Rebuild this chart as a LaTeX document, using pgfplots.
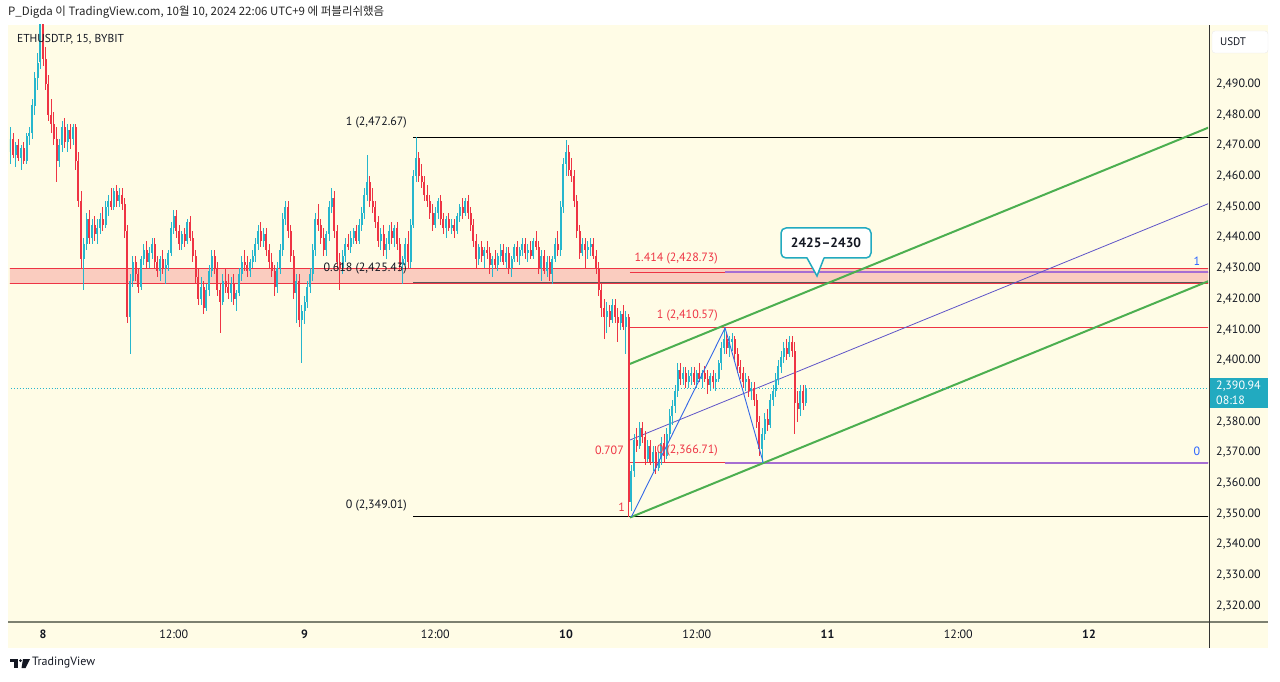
\documentclass[border=0pt]{standalone}
\usepackage{fontspec}
\setmainfont{PT Sans}
\newfontfamily\kr{Noto Sans CJK KR}
\usepackage{pgfplots}
\usepackage{pgfplotstable}
\pgfplotsset{compat=1.18}

\definecolor{bg}{RGB}{255,252,230}
\definecolor{upc}{RGB}{38,182,205}
\definecolor{dnc}{RGB}{238,52,68}
\definecolor{grn}{RGB}{76,175,80}
\definecolor{prp}{RGB}{166,110,210}
\definecolor{mid}{RGB}{94,84,200}
\definecolor{zz}{RGB}{52,104,230}
\definecolor{tealc}{RGB}{34,170,192}
\definecolor{txt}{RGB}{19,23,34}
\definecolor{axc}{RGB}{125,128,112}
\definecolor{lblue}{RGB}{41,98,255}

% ETHUSDT.P 15m candles, first one at Oct 7 21:00 (x in hours from Oct 8 00:00)
\pgfplotstableread{
o h l c
2468 2476 2464 2472
2472 2474 2466 2467
2467 2471 2463 2470
2470 2472 2465 2466
2466 2470 2462 2469
2469 2471 2464 2465
2465 2474 2464 2473
2473 2476 2470 2474
2474 2485 2472 2483
2483 2494 2480 2492
2492 2500 2488 2497
2497 2514 2495 2510
2510 2512 2496 2498
2498 2502 2488 2490
2490 2493 2478 2480
2480 2485 2474 2477
2477 2481 2470 2472
2472 2476 2458 2465
2465 2472 2463 2470
2470 2478 2468 2476
2476 2479 2469 2471
2471 2477 2468 2475
2475 2477 2469 2472
2472 2477 2470 2476
2476 2477 2462 2465
2465 2468 2450 2452
2452 2455 2430 2433
2433 2440 2423 2438
2438 2448 2436 2446
2446 2449 2438 2440
2440 2446 2438 2444
2444 2447 2439 2441
2441 2446 2438 2443
2443 2448 2441 2446
2446 2450 2442 2444
2444 2452 2443 2450
2450 2454 2447 2452
2452 2456 2449 2450
2450 2456 2449 2455
2455 2457 2450 2452
2452 2456 2450 2454
2454 2456 2449 2451
2451 2453 2440 2442
2442 2444 2412 2414
2414 2428 2402 2426
2426 2434 2424 2432
2432 2434 2426 2428
2428 2430 2422 2424
2424 2434 2423 2433
2433 2438 2431 2436
2436 2439 2430 2432
2432 2437 2430 2435
2435 2440 2433 2438
2438 2440 2430 2432
2432 2434 2427 2429
2429 2434 2426 2433
2433 2436 2428 2430
2430 2433 2425 2431
2431 2436 2429 2435
2435 2445 2434 2443
2443 2449 2441 2447
2447 2449 2440 2442
2442 2444 2436 2438
2438 2442 2436 2441
2441 2443 2437 2439
2439 2446 2438 2445
2445 2447 2439 2440
2440 2442 2432 2434
2434 2436 2425 2427
2427 2430 2418 2420
2420 2427 2418 2424
2424 2426 2415 2417
2417 2425 2416 2423
2423 2431 2421 2429
2429 2436 2427 2434
2434 2436 2428 2430
2430 2432 2421 2423
2423 2425 2409 2419
2419 2428 2418 2426
2426 2430 2422 2424
2424 2428 2420 2422
2422 2427 2419 2425
2425 2428 2418 2420
2420 2423 2416 2422
2422 2430 2421 2428
2428 2434 2426 2432
2432 2436 2429 2431
2431 2434 2427 2429
2429 2433 2427 2432
2432 2436 2430 2434
2434 2440 2432 2438
2438 2444 2436 2442
2442 2445 2437 2439
2439 2443 2437 2441
2441 2443 2434 2436
2436 2438 2430 2432
2432 2435 2427 2429
2429 2431 2421 2424
2424 2432 2422 2430
2430 2438 2428 2436
2436 2448 2434 2446
2446 2452 2444 2450
2450 2452 2440 2442
2442 2444 2432 2434
2434 2436 2420 2422
2422 2428 2412 2426
2426 2428 2411 2413
2413 2418 2399 2416
2416 2421 2412 2419
2419 2426 2417 2424
2424 2430 2422 2428
2428 2438 2426 2436
2436 2448 2434 2446
2446 2451 2442 2444
2444 2446 2438 2440
2440 2443 2434 2436
2436 2442 2434 2441
2441 2452 2439 2450
2450 2456 2448 2453
2453 2455 2440 2442
2442 2444 2430 2432
2432 2435 2423 2430
2430 2436 2428 2434
2434 2440 2432 2438
2438 2441 2436 2437
2437 2442 2435 2440
2440 2443 2438 2442
2442 2444 2438 2439
2439 2446 2438 2444
2444 2450 2442 2448
2448 2456 2446 2454
2454 2467 2452 2458
2458 2460 2450 2452
2452 2456 2448 2450
2450 2452 2443 2445
2445 2447 2437 2439
2439 2443 2436 2441
2441 2444 2434 2436
2436 2440 2433 2438
2438 2444 2436 2442
2442 2445 2438 2440
2440 2444 2437 2443
2443 2445 2436 2438
2438 2440 2429 2431
2431 2434 2425 2433
2433 2440 2431 2438
2438 2442 2430 2432
2432 2446 2430 2444
2444 2462 2443 2460
2460 2472.67 2458 2466
2466 2468 2458 2460
2460 2464 2456 2458
2458 2460 2452 2454
2454 2457 2450 2452
2452 2454 2446 2448
2448 2451 2442 2444
2444 2450 2443 2448
2448 2453 2446 2452
2452 2454 2444 2446
2446 2448 2441 2443
2443 2447 2440 2446
2446 2448 2442 2443
2443 2446 2441 2444
2444 2446 2440 2442
2442 2448 2441 2447
2447 2451 2445 2450
2450 2453 2446 2448
2448 2453 2447 2452
2452 2454 2446 2448
2448 2450 2442 2444
2444 2446 2437 2439
2439 2441 2430 2433
2433 2438 2431 2437
2437 2439 2432 2434
2434 2437 2430 2436
2436 2439 2433 2435
2435 2437 2428 2431
2431 2434 2427 2433
2433 2436 2430 2431
2431 2435 2429 2434
2434 2438 2432 2436
2436 2438 2431 2432
2432 2437 2430 2435
2435 2437 2428 2430
2430 2434 2427 2433
2433 2438 2432 2437
2437 2439 2432 2434
2434 2437 2431 2436
2436 2440 2434 2438
2438 2440 2433 2435
2435 2438 2432 2436
2436 2439 2433 2434
2434 2440 2433 2439
2439 2442 2436 2437
2437 2439 2428 2430
2430 2436 2426 2434
2434 2436 2428 2429
2429 2434 2427 2432
2432 2434 2426 2428
2428 2434 2425 2433
2433 2440 2432 2438
2438 2442 2434 2436
2436 2452 2434 2450
2450 2466 2448 2464
2464 2471.8 2460 2468
2468 2470 2460 2462
2462 2466 2458 2460
2460 2462 2450 2452
2452 2454 2440 2442
2442 2444 2433 2435
2435 2440 2434 2438
2438 2440 2430 2436
2436 2439 2433 2437
2437 2440 2434 2438
2438 2440 2433 2434
2434 2436 2428 2430
2430 2432 2421 2423
2423 2425 2414 2417
2417 2420 2407 2414
2414 2419 2409 2416
2416 2418 2411 2413
2413 2420 2412 2418
2418 2420 2412 2414
2414 2417 2406 2412
2412 2416 2410 2415
2415 2418 2410 2411
2411 2416 2402 2414
2414 2415 2349.01 2354
2354 2366 2351 2364
2364 2376 2362 2374
2374 2378 2370 2372
2372 2380 2371 2378
2378 2380 2373 2375
2375 2377 2366 2368
2368 2374 2367 2372
2372 2374 2366 2367
2367 2372 2364 2370
2370 2372 2363 2365
2365 2370 2364 2368
2368 2375 2366 2373
2373 2376 2367 2369
2369 2378 2368 2376
2376 2384 2374 2382
2382 2387 2379 2385
2385 2392 2383 2390
2390 2399 2388 2397
2397 2399 2392 2394
2394 2398 2392 2396
2396 2398 2391 2393
2393 2397 2391 2395
2395 2398 2392 2396
2396 2398 2392 2393
2393 2397 2391 2396
2396 2399 2393 2394
2394 2397 2391 2396
2396 2398 2393 2394
2394 2397 2389 2392
2392 2396 2390 2395
2395 2397 2391 2393
2393 2396 2390 2394
2394 2400 2393 2399
2399 2406 2397 2404
2404 2410.57 2402 2407
2407 2409 2402 2404
2404 2408 2401 2406
2406 2409 2403 2407
2407 2408 2400 2402
2402 2404 2396 2398
2398 2400 2394 2396
2396 2398 2391 2393
2393 2396 2390 2394
2394 2395 2388 2390
2390 2393 2387 2391
2391 2393 2385 2387
2387 2389 2378 2380
2380 2382 2369 2371
2371 2378 2366.71 2376
2376 2383 2374 2381
2381 2384 2377 2379
2379 2389 2378 2387
2387 2392 2385 2390
2390 2396 2388 2394
2394 2400 2392 2398
2398 2403 2396 2401
2401 2406 2399 2404
2404 2407 2400 2402
2402 2408 2401 2406
2406 2408 2401 2403
2403 2406 2376 2386
2386 2390 2380 2384
2384 2392 2382 2390
2390 2392 2384 2386
2386 2392 2385 2390.94
}\candles

\begin{document}
\begin{tikzpicture}
% panes
\fill[white] (0,0) rectangle (1280pt,681pt);
\fill[bg] (8pt,33pt) rectangle (1268pt,656pt);

\begin{axis}[
    at={(10pt,59pt)}, anchor=south west,
    scale only axis, width=1198pt, height=597pt,
    xmin=-3.03, xmax=106.92,
    ymin=2314.79, ymax=2509.21,
    axis line style={draw=none},
    major tick length=0pt,
    xtick={0,12,...,96},
    xticklabels={\textbf{8},12:00,\textbf{9},12:00,\textbf{10},12:00,\textbf{11},12:00,\textbf{12}},
    xticklabel style={anchor=center, yshift=-12pt, font=\fontsize{12}{14}\selectfont, text=txt},
    ytick={2320,2330,2340,2350,2360,2370,2380,2400,2410,2420,2430,2440,2450,2460,2470,2480,2490},
    yticklabel pos=right,
    scaled y ticks=false,
    yticklabel style={anchor=west, inner sep=0pt, xshift=8pt, font=\fontsize{12}{14}\selectfont, text=txt,
        /pgf/number format/.cd, fixed, fixed zerofill, precision=2, 1000 sep={,}, assume math mode=true},
    restrict y to domain=2000:3000,
    candle/.style={draw=none, mark=none, forget plot, error bars/.cd, y dir=both, y explicit, error mark=none},
]
% support/resistance zone 2425-2430
\addplot[fill=dnc, fill opacity=0.24, draw=none, forget plot] coordinates {(-4,2425) (110,2425) (110,2430) (-4,2430)};
\addplot[dnc, line width=0.9pt] coordinates {(-4,2430) (110,2430)};
\addplot[dnc, line width=0.9pt] coordinates {(-4,2425) (110,2425)};

% fib retracement (black)
\addplot[black, line width=0.9pt] coordinates {(34,2472.67) (110,2472.67)};
\addplot[black!65, line width=1.3pt] coordinates {(34,2425.43) (110,2425.43)};
\addplot[black, line width=0.9pt] coordinates {(34,2349.01) (110,2349.01)};

% fib extension (red)
\addplot[dnc, line width=1pt] coordinates {(53.87,2428.73) (110,2428.73)};
\addplot[dnc, line width=1pt] coordinates {(53.87,2410.57) (110,2410.57)};
\addplot[dnc, line width=1pt] coordinates {(53.87,2366.71) (110,2366.71)};
\addplot[prp, line width=2pt] coordinates {(62.6,2428.73) (110,2428.73)};
\addplot[prp, line width=2pt] coordinates {(62.6,2366.71) (110,2366.71)};

% channel
\addplot[grn, line width=2pt] coordinates {(53.87,2398.84) (110,2480.2)};
\addplot[grn, line width=2pt] coordinates {(53.87,2348.82) (110,2430.2)};
\addplot[mid, line width=0.8pt] coordinates {(53.87,2374.06) (110,2455.45)};

% last price line
\addplot[upc, dotted, line width=0.9pt] coordinates {(-4,2390.94) (110,2390.94)};

% candles: wicks and bodies
\addplot[candle, error bar style={line width=0.9pt, draw=upc, solid}]
  table[x expr=\coordindex/4-3,
        y expr={\thisrow{c}>=\thisrow{o} ? (\thisrow{h}+\thisrow{l})/2 : 0},
        y error expr={(\thisrow{h}-\thisrow{l})/2}] {\candles};
\addplot[candle, error bar style={line width=2pt, draw=upc, solid}]
  table[x expr=\coordindex/4-3,
        y expr={\thisrow{c}>=\thisrow{o} ? (\thisrow{o}+\thisrow{c})/2 : 0},
        y error expr={max(abs(\thisrow{c}-\thisrow{o})/2,0.2)}] {\candles};
\addplot[candle, error bar style={line width=0.9pt, draw=dnc, solid}]
  table[x expr=\coordindex/4-3,
        y expr={\thisrow{c}<\thisrow{o} ? (\thisrow{h}+\thisrow{l})/2 : 0},
        y error expr={(\thisrow{h}-\thisrow{l})/2}] {\candles};
\addplot[candle, error bar style={line width=2pt, draw=dnc, solid}]
  table[x expr=\coordindex/4-3,
        y expr={\thisrow{c}<\thisrow{o} ? (\thisrow{o}+\thisrow{c})/2 : 0},
        y error expr={max(abs(\thisrow{c}-\thisrow{o})/2,0.2)}] {\candles};

% zigzag
\addplot[zz, line width=0.9pt] coordinates {(54,2349.01) (62.6,2410.57) (66.1,2366.71)};
\end{axis}

% axis chrome
\draw[axc, line width=2pt] (8pt,59pt) -- (1268pt,59pt);
\draw[black!80, line width=1pt] (1209pt,33pt) -- (1209pt,656pt);

% header and symbol
\node[anchor=west, inner sep=0pt, text=black!85, font=\kr\fontsize{11.5}{13}\selectfont] at (8pt,669pt)
  {P\_Digda 이 TradingView.com, 10월 10, 2024 22:06 UTC+9 에 퍼블리쉬했음};
\node[anchor=west, inner sep=0pt, text=txt, font=\fontsize{11.5}{13}\selectfont] at (17pt,642pt) {ETHUSDT.P, 15, BYBIT};

% fib labels
\begin{scope}[every node/.style={inner sep=0pt, font=\fontsize{12}{14}\selectfont}]
\node[anchor=east, text=txt] at (407pt,558pt) {1 (2,472.67)};
\node[anchor=east, text=txt] at (407pt,412pt) {0.618 (2,425.43)};
\node[anchor=east, text=txt] at (407pt,175pt) {0 (2,349.01)};
\node[anchor=east, text=dnc] at (718pt,422pt) {1.414 (2,428.73)};
\node[anchor=east, text=dnc] at (718pt,365pt) {1 (2,410.57)};
\node[anchor=east, text=dnc] at (624pt,231pt) {0.707};
\node[anchor=east, text=dnc] at (718pt,230pt) {0 (2,366.71)};
\node[anchor=east, text=dnc] at (625pt,174pt) {1};
\node[text=lblue] at (1197pt,420pt) {1};
\node[text=lblue] at (1197pt,230pt) {0};
\end{scope}

% callout
\filldraw[fill=white, draw=tealc, line width=1.5pt, rounded corners=5pt] (781pt,423pt) rectangle (871pt,453pt);
\fill[white] (807pt,424.5pt) -- (817pt,405pt) -- (824pt,424.5pt) -- cycle;
\draw[tealc, line width=1.5pt] (807pt,423pt) -- (817pt,405pt) -- (824pt,423pt);
\node[font=\bfseries\fontsize{13.5}{15}\selectfont, text=txt] at (826pt,438pt) {2425--2430};

% last price tag and currency box
\fill[tealc] (1210pt,273pt) rectangle (1268pt,303pt);
\node[anchor=west, inner sep=0pt, text=white, font=\fontsize{12}{14}\selectfont] at (1216pt,295pt) {2,390.94};
\node[anchor=west, inner sep=0pt, text=white, font=\fontsize{12}{14}\selectfont] at (1216pt,281pt) {08:18};
\filldraw[fill=white, draw=black!8, rounded corners=3pt] (1212pt,628pt) rectangle (1268pt,650pt);
\node[text=txt, font=\fontsize{11}{13}\selectfont] at (1233pt,639pt) {USDT};

% TradingView logo
\fill[txt] (10pt,22pt) rectangle (18pt,19pt);
\fill[txt] (14pt,22pt) rectangle (18pt,13pt);
\fill[txt] (20.5pt,20.5pt) circle (1.5pt);
\fill[txt] (23pt,22pt) -- (30pt,22pt) -- (25.5pt,13pt) -- (21.5pt,13pt) -- cycle;
\node[anchor=west, inner sep=0pt, text=txt, font=\fontsize{12}{14}\selectfont] at (32pt,18pt) {TradingView};

\pgfresetboundingbox
\useasboundingbox (0,0) rectangle (1280pt,681pt);
\end{tikzpicture}
\end{document}
